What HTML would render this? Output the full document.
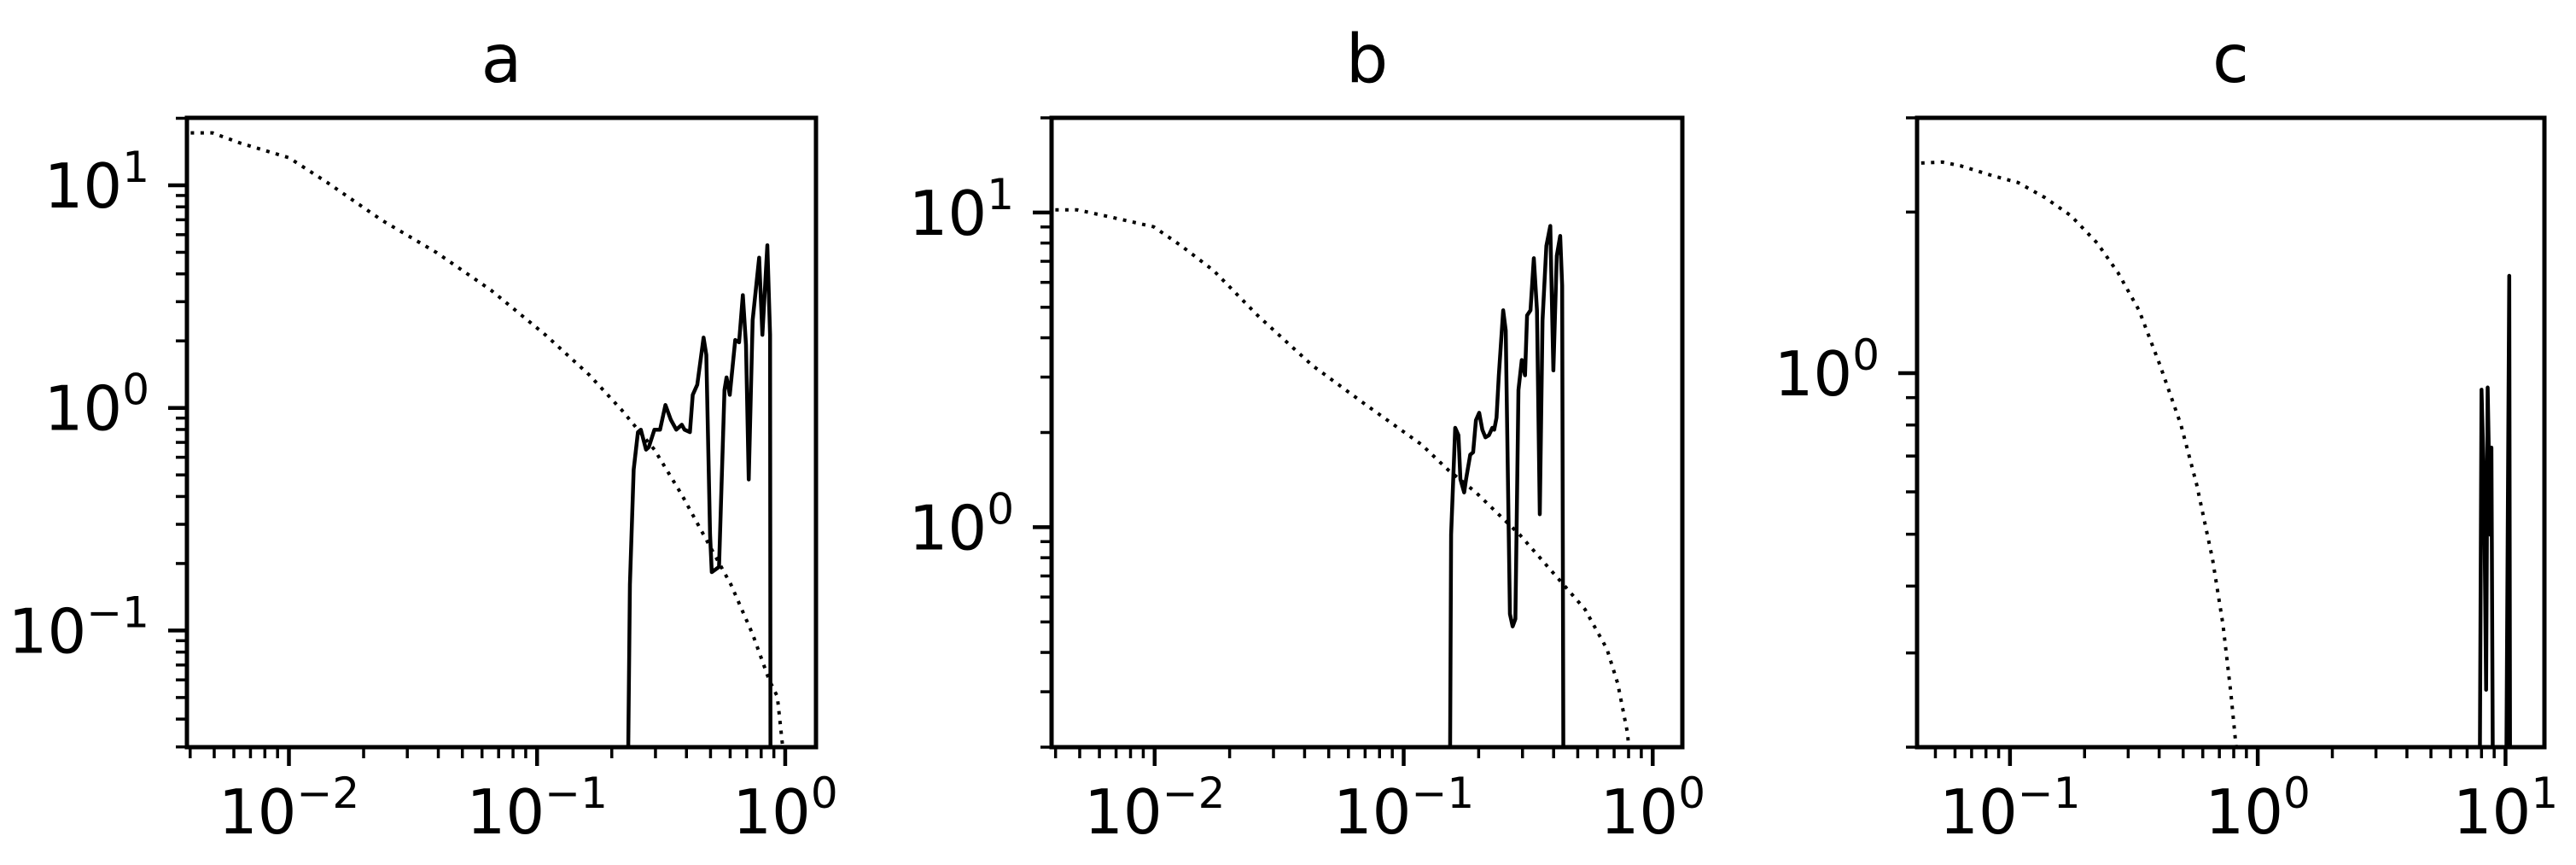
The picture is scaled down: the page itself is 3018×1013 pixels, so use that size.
<!DOCTYPE html>
<html><head><meta charset="utf-8">
<style>
html,body{margin:0;padding:0;background:#fff;width:3018px;height:1013px;overflow:hidden;}
svg{display:block;}
text{font-family:"DejaVu Sans","Liberation Sans",sans-serif;fill:#000;}
</style></head>
<body>
<svg id="fig" width="3018" height="1013" viewBox="0 0 3018 1013" xmlns="http://www.w3.org/2000/svg">
<rect width="3018" height="1013" fill="#fff"/>
</svg>
<script>
// Panel a data
const aDotX = [0.00402,0.00492,0.00634,0.0100,0.01425,0.0237,0.0393,0.0652,0.108,0.162,0.219,0.297,0.383,0.493,0.604,0.740,0.861,0.929,0.977];
const aDotY = [17.2,17.2,15.5,13.3,10.3,6.97,4.99,3.38,2.13,1.41,0.98,0.649,0.407,0.243,0.161,0.096,0.060,0.0505,0.030];
const aSolX = [0.2307,0.2366,0.245,0.255,0.262,0.275,0.282,0.297,0.313,0.329,0.346,0.364,0.383,0.393,0.413,0.424,0.442,0.469,0.481,0.498,0.506,0.541,0.569,0.580,0.598,0.629,0.652,0.675,0.695,0.713,0.739,0.785,0.809,0.847,0.869,0.873];
const aSolY = [0.01,0.161,0.528,0.778,0.798,0.649,0.666,0.798,0.798,1.03,0.885,0.798,0.840,0.798,0.778,1.145,1.27,2.07,1.73,0.270,0.183,0.193,1.205,1.37,1.145,2.02,1.97,3.21,1.92,0.477,2.48,4.73,2.13,5.38,2.13,0.01];
// Panel b data
const bDotX = [0.00399,0.00489,0.00662,0.00991,0.01276,0.01726,0.0259,0.0429,0.0710,0.118,0.151,0.195,0.292,0.437,0.535,0.655,0.724,0.793,0.80];
const bDotY = [10.2,10.2,9.69,9.01,7.85,6.54,4.71,3.27,2.44,1.83,1.52,1.29,0.948,0.659,0.548,0.410,0.318,0.221,0.2];
const bSolX = [0.151,0.155,0.161,0.166,0.169,0.175,0.178,0.185,0.190,0.195,0.201,0.207,0.213,0.220,0.227,0.231,0.236,0.241,0.251,0.257,0.267,0.274,0.281,0.289,0.298,0.307,0.313,0.323,0.333,0.343,0.352,0.361,0.374,0.388,0.399,0.412,0.425,0.433,0.442];
const bSolY = [0.01,0.948,2.07,1.96,1.42,1.29,1.42,1.70,1.73,2.19,2.31,2.04,1.93,1.96,2.07,2.04,2.23,3.04,4.89,4.22,0.530,0.484,0.511,2.73,3.40,3.04,4.71,4.89,7.16,4.89,1.10,4.54,7.84,9.07,3.15,7.29,8.43,5.86,0.01];
// Panel c data
const cDotX = [0.0438,0.0533,0.0632,0.0847,0.108,0.138,0.176,0.225,0.273,0.332,0.403,0.490,0.567,0.657,0.724,0.780,0.818];
const cDotY = [2.47,2.48,2.44,2.34,2.27,2.13,1.97,1.75,1.54,1.31,1.035,0.80,0.619,0.449,0.339,0.251,0.2];
const cSolX = [7.83,8.0,8.19,8.35,8.47,8.68,8.77,8.94,10.0,10.35,10.45];
const cSolY = [0.1,0.931,0.619,0.256,0.94,0.499,0.726,0.1,0.1,1.52,0.1];
// Tick labels
const aXTicks = [-2,-1,0], aYTicks = [1,0,-1];
const bXTicks = [-2,-1,0], bYTicks = [1,0];
const cXTicks = [-1,0,1], cYTicks = [0];
const titles = ["a","b","c"];

const NS = "http://www.w3.org/2000/svg";
const svg = document.getElementById('fig');
function mk(tag, attrs, parent){
  const e = document.createElementNS(NS, tag);
  for (const k in attrs) e.setAttribute(k, attrs[k]);
  (parent||svg).appendChild(e);
  return e;
}
const TOP=138, BOT=875;
const panels = [
  {id:'a', L:219, R:956, xl:[-2.411,0.124], yl:[-1.524,1.303], dx:aDotX, dy:aDotY, sx:aSolX, sy:aSolY, xt:aXTicks, yt:aYTicks, title:titles[0]},
  {id:'b', L:1232, R:1971, xl:[-2.414,0.119], yl:[Math.log10(0.2),Math.log10(20)], dx:bDotX, dy:bDotY, sx:bSolX, sy:bSolY, xt:bXTicks, yt:bYTicks, title:titles[1]},
  {id:'c', L:2246, R:2981, xl:[-1.375,1.157], yl:[Math.log10(0.2),Math.log10(3)], dx:cDotX, dy:cDotY, sx:cSolX, sy:cSolY, xt:cXTicks, yt:cYTicks, title:titles[2]}
];
function expStr(e){ return e<0 ? '\u2212'+(-e) : ''+e; }
function powLabel(g, x, y, e, anchor, name){
  const t = mk('text', {x:x, y:y, 'font-size':72, 'text-anchor':anchor}, g);
  
  
  t.appendChild(document.createTextNode('10'));
  const s = mk('tspan', {'font-size':50, dy:-30}, t);
  s.textContent = expStr(e);
  return t;
}
panels.forEach(p=>{
  const g = mk('g', {});
  
  
  const X = v => p.L + (Math.log10(v)-p.xl[0])/(p.xl[1]-p.xl[0])*(p.R-p.L);
  const Y = v => BOT - (Math.log10(v)-p.yl[0])/(p.yl[1]-p.yl[0])*(BOT-TOP);
  const clipId = 'clip-'+p.id;
  const cp = mk('clipPath', {id:clipId}, g);
  mk('rect', {x:p.L, y:TOP, width:p.R-p.L, height:BOT-TOP}, cp);
  const tt = mk('text', {x:(p.L+p.R)/2, y:96, 'font-size':78, 'text-anchor':'middle'}, g);
  
  
  tt.textContent = p.title;
  const dd = p.dx.map((v,i)=>X(v).toFixed(1)+','+Y(p.dy[i]).toFixed(1)).join(' ');
  const dl = mk('polyline', {points:dd, fill:'none', stroke:'#000', 'stroke-width':4, 'stroke-dasharray':'4 7.5', 'clip-path':'url(#'+clipId+')'}, g);
  
  
  const sd = p.sx.map((v,i)=>X(v).toFixed(1)+','+Y(p.sy[i]).toFixed(1)).join(' ');
  const sl = mk('polyline', {points:sd, fill:'none', stroke:'#000', 'stroke-width':4.5, 'stroke-linejoin':'round', 'clip-path':'url(#'+clipId+')'}, g);
  
  
  for (let d=Math.floor(p.xl[0]); d<=Math.ceil(p.xl[1]); d++){
    for (let m=1; m<10; m++){
      const lv = d + Math.log10(m);
      if (lv < p.xl[0]-1e-6 || lv > p.xl[1]+1e-6) continue;
      const x = X(Math.pow(10,lv));
      mk('line', {x1:x, x2:x, y1:BOT, y2:BOT+(m===1?22:13), stroke:'#000', 'stroke-width':m===1?4.5:3.5}, g);
    }
  }
  p.xt.forEach(e=>{ powLabel(g, X(Math.pow(10,e)), 976, e, 'middle', 'x-tick-label'); });
  for (let d=Math.floor(p.yl[0]); d<=Math.ceil(p.yl[1]); d++){
    for (let m=1; m<10; m++){
      const lv = d + Math.log10(m);
      if (lv < p.yl[0]-1e-6 || lv > p.yl[1]+1e-6) continue;
      const y = Y(Math.pow(10,lv));
      mk('line', {x1:p.L-(m===1?22:13), x2:p.L, y1:y, y2:y, stroke:'#000', 'stroke-width':m===1?4.5:3.5}, g);
    }
  }
  p.yt.forEach(e=>{ powLabel(g, p.L-44, Y(Math.pow(10,e))+26, e, 'end', 'y-tick-label'); });
  const fr = mk('rect', {x:p.L, y:TOP, width:p.R-p.L, height:BOT-TOP, fill:'none', stroke:'#000', 'stroke-width':5}, g);
  
  
});
</script>
</body></html>
